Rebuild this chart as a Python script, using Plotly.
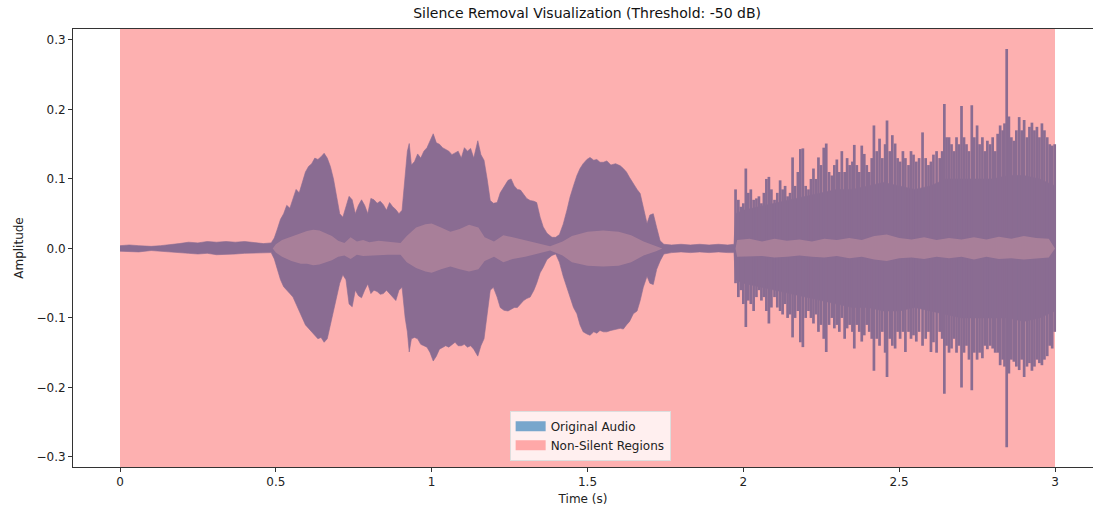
import plotly.graph_objects as go

# ---------------- data ----------------
# outer waveform envelope (time in s, max / min amplitude)
env_time = [0.000, 0.030, 0.060, 0.100, 0.130, 0.160, 0.190, 0.220, 0.250, 0.280,
            0.310, 0.340, 0.370, 0.400, 0.430, 0.460, 0.485, 0.495, 0.505, 0.515,
            0.525, 0.535, 0.545, 0.555, 0.565, 0.575, 0.585, 0.595, 0.605, 0.615,
            0.625, 0.635, 0.645, 0.655, 0.665, 0.675, 0.685, 0.695, 0.705, 0.715,
            0.725, 0.735, 0.745, 0.755, 0.765, 0.775, 0.785, 0.795, 0.805, 0.815,
            0.825, 0.835, 0.845, 0.855, 0.865, 0.875, 0.885, 0.895, 0.905, 0.915,
            0.922, 0.928, 0.935, 0.945, 0.955, 0.965, 0.975, 0.985, 0.995, 1.005,
            1.015, 1.025, 1.035, 1.045, 1.055, 1.065, 1.075, 1.085, 1.095, 1.105,
            1.115, 1.125, 1.135, 1.148, 1.158, 1.168, 1.178, 1.188, 1.198, 1.210,
            1.220, 1.232, 1.245, 1.255, 1.265, 1.275, 1.285, 1.295, 1.305, 1.316,
            1.328, 1.337, 1.348, 1.358, 1.370, 1.386, 1.398, 1.410, 1.422, 1.434,
            1.444, 1.455, 1.466, 1.476, 1.486, 1.498, 1.508, 1.520, 1.530, 1.540,
            1.551, 1.562, 1.575, 1.590, 1.605, 1.615, 1.625, 1.635, 1.647, 1.659,
            1.669, 1.679, 1.691, 1.700, 1.711, 1.722, 1.733, 1.745, 1.770, 1.800,
            1.830, 1.860, 1.890, 1.920, 1.950, 1.970, 1.975, 2.000, 2.050, 2.100,
            2.150, 2.200, 2.250, 2.300, 2.350, 2.400, 2.450, 2.500, 2.550, 2.600,
            2.650, 2.700, 2.750, 2.800, 2.850, 2.900, 2.950, 3.000]
env_upper = [0.004, 0.005, 0.004, 0.003, 0.004, 0.005, 0.007, 0.009, 0.008, 0.010,
             0.009, 0.010, 0.009, 0.010, 0.008, 0.007, 0.008, 0.015, 0.028, 0.042,
             0.050, 0.062, 0.058, 0.070, 0.085, 0.080, 0.095, 0.110, 0.118, 0.122,
             0.130, 0.128, 0.132, 0.137, 0.130, 0.118, 0.100, 0.075, 0.050, 0.045,
             0.060, 0.075, 0.070, 0.050, 0.062, 0.070, 0.062, 0.050, 0.072, 0.070,
             0.065, 0.068, 0.063, 0.055, 0.066, 0.060, 0.056, 0.050, 0.055, 0.100,
             0.140, 0.151, 0.120, 0.125, 0.136, 0.130, 0.140, 0.145, 0.155, 0.165,
             0.152, 0.150, 0.145, 0.143, 0.140, 0.135, 0.138, 0.140, 0.130, 0.145,
             0.140, 0.144, 0.130, 0.155, 0.135, 0.127, 0.100, 0.069, 0.065, 0.066,
             0.080, 0.088, 0.098, 0.100, 0.090, 0.085, 0.084, 0.078, 0.072, 0.069,
             0.068, 0.066, 0.045, 0.031, 0.022, 0.016, 0.016, 0.020, 0.035, 0.055,
             0.074, 0.090, 0.105, 0.115, 0.122, 0.128, 0.131, 0.127, 0.128, 0.124,
             0.124, 0.126, 0.120, 0.122, 0.119, 0.115, 0.110, 0.102, 0.093, 0.085,
             0.079, 0.060, 0.036, 0.048, 0.050, 0.030, 0.011, 0.006, 0.005, 0.006,
             0.005, 0.006, 0.005, 0.006, 0.005, 0.006, 0.050, 0.055, 0.060, 0.065,
             0.070, 0.075, 0.080, 0.085, 0.085, 0.090, 0.095, 0.090, 0.085, 0.090,
             0.100, 0.100, 0.100, 0.100, 0.105, 0.105, 0.100, 0.090]
env_lower = [-0.004, -0.004, -0.005, -0.003, -0.004, -0.004, -0.006, -0.007, -0.008, -0.007,
             -0.009, -0.008, -0.008, -0.007, -0.007, -0.006, -0.006, -0.015, -0.030, -0.045,
             -0.055, -0.060, -0.065, -0.070, -0.080, -0.090, -0.100, -0.110, -0.115, -0.120,
             -0.125, -0.130, -0.128, -0.135, -0.130, -0.110, -0.090, -0.070, -0.050, -0.038,
             -0.045, -0.080, -0.084, -0.060, -0.068, -0.071, -0.060, -0.051, -0.065, -0.060,
             -0.062, -0.066, -0.065, -0.060, -0.065, -0.070, -0.075, -0.060, -0.056, -0.100,
             -0.120, -0.149, -0.130, -0.128, -0.130, -0.138, -0.140, -0.142, -0.150, -0.162,
             -0.155, -0.145, -0.142, -0.140, -0.142, -0.138, -0.135, -0.140, -0.140, -0.138,
             -0.142, -0.140, -0.145, -0.155, -0.140, -0.130, -0.094, -0.060, -0.056, -0.070,
             -0.085, -0.089, -0.090, -0.088, -0.085, -0.085, -0.080, -0.075, -0.072, -0.070,
             -0.060, -0.050, -0.035, -0.027, -0.016, -0.010, -0.008, -0.020, -0.040, -0.056,
             -0.070, -0.085, -0.094, -0.110, -0.120, -0.123, -0.125, -0.120, -0.122, -0.118,
             -0.120, -0.120, -0.118, -0.116, -0.115, -0.116, -0.110, -0.105, -0.094, -0.090,
             -0.075, -0.056, -0.040, -0.050, -0.052, -0.030, -0.018, -0.008, -0.006, -0.005,
             -0.006, -0.005, -0.006, -0.005, -0.006, -0.006, -0.045, -0.050, -0.055, -0.060,
             -0.065, -0.070, -0.075, -0.080, -0.085, -0.085, -0.090, -0.090, -0.085, -0.090,
             -0.095, -0.100, -0.100, -0.100, -0.100, -0.105, -0.100, -0.090]

# individual peaks in the dense part of the recording
spike_time = [1.975, 1.984, 1.992, 2.000, 2.008, 2.016, 2.024, 2.033, 2.042, 2.050,
              2.058, 2.066, 2.074, 2.082, 2.090, 2.100, 2.109, 2.118, 2.126, 2.134,
              2.142, 2.150, 2.158, 2.166, 2.175, 2.183, 2.191, 2.200, 2.209, 2.217,
              2.225, 2.233, 2.241, 2.249, 2.258, 2.266, 2.275, 2.284, 2.292, 2.300,
              2.308, 2.316, 2.325, 2.333, 2.341, 2.350, 2.356, 2.364, 2.372, 2.380,
              2.388, 2.396, 2.404, 2.412, 2.419, 2.428, 2.437, 2.446, 2.455, 2.461,
              2.470, 2.478, 2.487, 2.495, 2.503, 2.512, 2.520, 2.530, 2.538, 2.546,
              2.555, 2.564, 2.575, 2.585, 2.594, 2.602, 2.610, 2.620, 2.630, 2.638,
              2.645, 2.652, 2.660, 2.668, 2.676, 2.684, 2.692, 2.700, 2.708, 2.716,
              2.724, 2.733, 2.741, 2.750, 2.758, 2.767, 2.775, 2.783, 2.792, 2.800,
              2.808, 2.816, 2.824, 2.832, 2.838, 2.845, 2.852, 2.860, 2.868, 2.876,
              2.885, 2.893, 2.901, 2.910, 2.918, 2.926, 2.934, 2.942, 2.950, 2.958,
              2.966, 2.975, 2.983, 2.991, 2.999]
spike_upper = [0.085, 0.070, 0.060, 0.065, 0.115, 0.080, 0.085, 0.070, 0.072, 0.075,
               0.065, 0.080, 0.100, 0.103, 0.085, 0.070, 0.080, 0.098, 0.085, 0.090,
               0.075, 0.080, 0.131, 0.090, 0.110, 0.143, 0.144, 0.090, 0.085, 0.100,
               0.115, 0.100, 0.131, 0.120, 0.145, 0.151, 0.110, 0.105, 0.120, 0.128,
               0.110, 0.140, 0.110, 0.130, 0.120, 0.125, 0.149, 0.120, 0.110, 0.148,
               0.136, 0.120, 0.110, 0.130, 0.177, 0.140, 0.158, 0.130, 0.150, 0.184,
               0.140, 0.163, 0.151, 0.130, 0.125, 0.140, 0.130, 0.120, 0.140, 0.135,
               0.125, 0.130, 0.167, 0.130, 0.120, 0.125, 0.135, 0.140, 0.130, 0.140,
               0.208, 0.160, 0.160, 0.150, 0.140, 0.160, 0.150, 0.205, 0.160, 0.150,
               0.140, 0.206, 0.160, 0.177, 0.150, 0.160, 0.140, 0.155, 0.150, 0.160,
               0.140, 0.165, 0.177, 0.170, 0.180, 0.287, 0.190, 0.160, 0.155, 0.170,
               0.189, 0.170, 0.185, 0.160, 0.175, 0.181, 0.170, 0.175, 0.160, 0.180,
               0.170, 0.160, 0.150, 0.148, 0.150]
spike_lower = [-0.050, -0.070, -0.060, -0.080, -0.113, -0.075, -0.080, -0.090, -0.070, -0.060,
               -0.075, -0.070, -0.090, -0.108, -0.085, -0.070, -0.085, -0.090, -0.095, -0.080,
               -0.100, -0.095, -0.128, -0.100, -0.090, -0.135, -0.142, -0.100, -0.090, -0.100,
               -0.108, -0.095, -0.120, -0.110, -0.130, -0.149, -0.110, -0.100, -0.115, -0.110,
               -0.120, -0.100, -0.130, -0.115, -0.110, -0.120, -0.144, -0.110, -0.120, -0.134,
               -0.125, -0.110, -0.120, -0.130, -0.176, -0.130, -0.140, -0.120, -0.150, -0.185,
               -0.130, -0.140, -0.144, -0.120, -0.130, -0.120, -0.149, -0.120, -0.130, -0.125,
               -0.134, -0.120, -0.140, -0.130, -0.120, -0.149, -0.135, -0.150, -0.120, -0.130,
               -0.209, -0.140, -0.150, -0.144, -0.130, -0.150, -0.140, -0.200, -0.150, -0.140,
               -0.160, -0.204, -0.150, -0.160, -0.150, -0.158, -0.140, -0.145, -0.140, -0.144,
               -0.150, -0.150, -0.168, -0.160, -0.170, -0.286, -0.180, -0.160, -0.163, -0.170,
               -0.175, -0.160, -0.185, -0.170, -0.165, -0.176, -0.170, -0.160, -0.165, -0.168,
               -0.160, -0.155, -0.140, -0.144, -0.120]

# lighter inner band of the waveform
inner_time = [0.49, 0.50, 0.52, 0.55, 0.58, 0.60, 0.62, 0.64, 0.66, 0.68,
              0.70, 0.72, 0.74, 0.76, 0.78, 0.80, 0.83, 0.86, 0.90, 0.92,
              0.95, 0.98, 1.00, 1.03, 1.06, 1.09, 1.12, 1.15, 1.17, 1.20,
              1.23, 1.26, 1.30, 1.34, 1.38, 1.42, 1.45, 1.50, 1.55, 1.60,
              1.64, 1.68, 1.72, 1.74, 1.975, 1.98, 2.02, 2.06, 2.10, 2.14,
              2.18, 2.22, 2.26, 2.30, 2.34, 2.38, 2.42, 2.46, 2.50, 2.54,
              2.58, 2.62, 2.66, 2.70, 2.74, 2.78, 2.82, 2.86, 2.90, 2.94,
              2.98, 3.00]
inner_upper = [0.000, 0.006, 0.012, 0.017, 0.021, 0.025, 0.027, 0.026, 0.022, 0.018,
               0.011, 0.008, 0.016, 0.010, 0.012, 0.009, 0.011, 0.010, 0.008, 0.018,
               0.030, 0.035, 0.036, 0.030, 0.024, 0.028, 0.034, 0.030, 0.016, 0.010,
               0.019, 0.016, 0.012, 0.008, 0.003, 0.010, 0.018, 0.024, 0.026, 0.024,
               0.019, 0.010, 0.004, 0.000, 0.000, 0.012, 0.014, 0.010, 0.014, 0.011,
               0.013, 0.010, 0.014, 0.012, 0.015, 0.012, 0.018, 0.020, 0.015, 0.013,
               0.016, 0.012, 0.015, 0.013, 0.016, 0.013, 0.017, 0.014, 0.018, 0.015,
               0.014, 0.000]
inner_lower = [0.000, -0.006, -0.012, -0.018, -0.022, -0.022, -0.024, -0.023, -0.020, -0.017,
               -0.012, -0.010, -0.015, -0.009, -0.011, -0.010, -0.010, -0.009, -0.009, -0.020,
               -0.028, -0.033, -0.035, -0.030, -0.026, -0.030, -0.033, -0.030, -0.018, -0.012,
               -0.020, -0.015, -0.012, -0.008, -0.003, -0.010, -0.020, -0.025, -0.026, -0.025,
               -0.020, -0.010, -0.004, 0.000, 0.000, -0.012, -0.012, -0.011, -0.013, -0.012,
               -0.010, -0.012, -0.013, -0.011, -0.014, -0.012, -0.016, -0.018, -0.014, -0.013,
               -0.015, -0.012, -0.014, -0.012, -0.016, -0.012, -0.015, -0.014, -0.016, -0.015,
               -0.013, 0.000]

# non-silent intervals (s)
region_start = [0.0]
region_end = [3.0]

x_ticks = [0, 0.5, 1, 1.5, 2, 2.5, 3]
y_ticks = [-0.3, -0.2, -0.1, 0.0, 0.1, 0.2, 0.3]

# ---------------- styling ----------------
DARK = "#8A6C92"
LIGHT = "#A87F99"
RED_BG = "#FDB0B0"
FONT = "DejaVu Sans"

fig = go.Figure()

# outer envelope polygon
fig.add_trace(go.Scatter(
    x=env_time + env_time[::-1],
    y=env_upper + env_lower[::-1],
    fill="toself", fillcolor=DARK, mode="lines",
    line=dict(width=0.6, color=DARK), showlegend=False, hoverinfo="skip"))

# spikes as vertical strokes
sx, sy = [], []
for t, up, lo in zip(spike_time, spike_upper, spike_lower):
    sx += [t, t, None]
    sy += [lo, up, None]
fig.add_trace(go.Scatter(x=sx, y=sy, mode="lines",
                         line=dict(width=2.7, color=DARK),
                         showlegend=False, hoverinfo="skip"))

# inner lighter band
fig.add_trace(go.Scatter(
    x=inner_time + inner_time[::-1],
    y=inner_upper + inner_lower[::-1],
    fill="toself", fillcolor=LIGHT, mode="lines",
    line=dict(width=0, color=LIGHT), showlegend=False, hoverinfo="skip"))

# legend entries (thick line icons act as colour patches)
fig.add_trace(go.Scatter(x=[None], y=[None], name="Original Audio",
                         mode="lines", line=dict(width=10, color="#78A6CC")))
fig.add_trace(go.Scatter(x=[None], y=[None], name="Non-Silent Regions",
                         mode="lines", line=dict(width=10, color="#FFA8A8")))

# non-silent regions
for s, e in zip(region_start, region_end):
    fig.add_shape(type="rect", xref="x", yref="paper", x0=s, x1=e, y0=0, y1=1,
                  fillcolor=RED_BG, line=dict(width=0), layer="below")

fig.update_layout(
    width=1093, height=512,
    margin=dict(l=73, r=0, t=29, b=45, autoexpand=False),
    paper_bgcolor="white", plot_bgcolor="white",
    font=dict(family=FONT, size=12, color="#222222"),
    title=dict(text="Silence Removal Visualization (Threshold: -50 dB)",
               x=0.504, xref="paper", xanchor="center",
               y=1 - 13 / 512, yref="container", yanchor="middle",
               font=dict(family=FONT, size=14, color="#111111")),
    showlegend=True,
    legend=dict(x=0.507, y=0.014, xanchor="center", yanchor="bottom",
                bgcolor="rgba(255,255,255,0.8)", bordercolor="#DDDDDD",
                borderwidth=1, font=dict(family=FONT, size=12, color="#222222"),
                tracegroupgap=2),
)

fig.update_xaxes(range=[-0.1508, 3.1219], tickvals=x_ticks,
                 ticktext=[f"{v:g}" for v in x_ticks],
                 showgrid=False, zeroline=False,
                 showline=True, mirror=True, linecolor="#333333", linewidth=1,
                 ticks="outside", ticklen=4, tickcolor="#333333",
                 title=dict(text="Time (s)", standoff=6,
                            font=dict(family=FONT, size=12, color="#222222")),
                 automargin=False)
fig.update_yaxes(range=[-0.3145, 0.3158], tickvals=y_ticks,
                 tickformat=".1f",
                 showgrid=False, zeroline=False,
                 showline=True, mirror=False, linecolor="#333333", linewidth=1,
                 ticks="outside", ticklen=4, tickcolor="#333333",
                 title=dict(text="Amplitude", standoff=10,
                            font=dict(family=FONT, size=12, color="#222222")),
                 automargin=False)

fig.write_html("out.html")
